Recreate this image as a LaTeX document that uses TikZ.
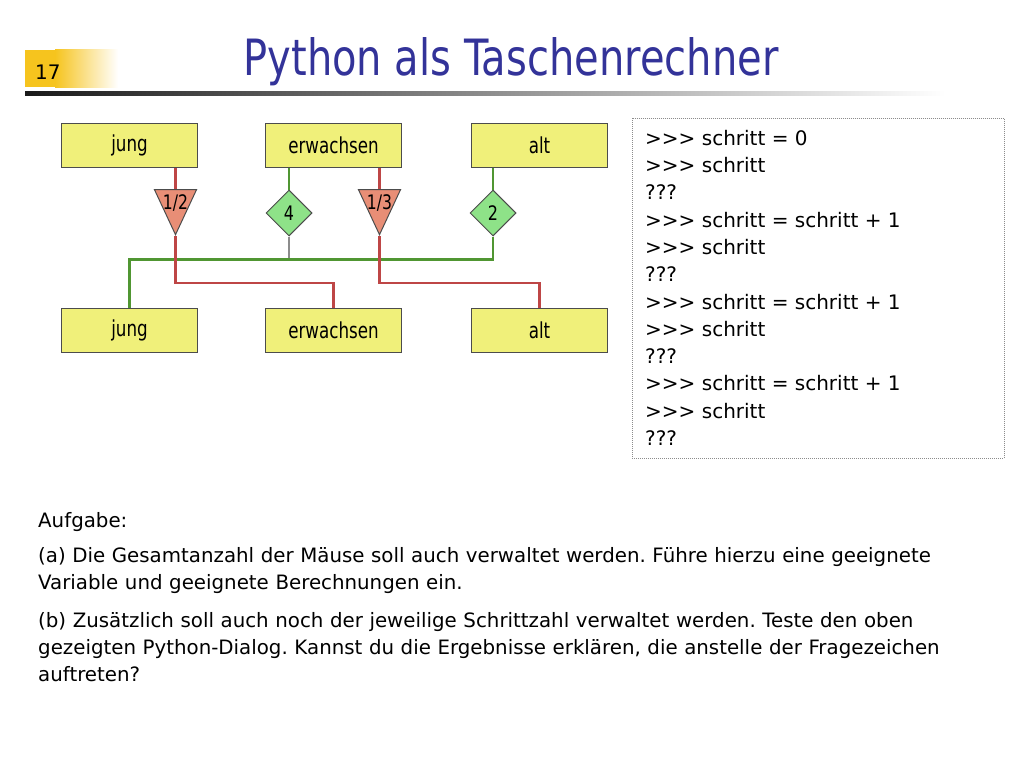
\documentclass[tikz,border=0pt]{standalone}
\usepackage{fontspec}
\setmainfont{DejaVu Sans}
\usetikzlibrary{shapes.geometric, positioning}
\frenchspacing

\definecolor{titelblau}{RGB}{51,51,153}
\definecolor{kastengelb}{RGB}{240,240,122}
\definecolor{dreieckrot}{RGB}{232,142,118}
\definecolor{rautegruen}{RGB}{142,226,136}
\definecolor{liniegruen}{RGB}{80,150,50}
\definecolor{linierot}{RGB}{190,70,70}
\definecolor{nummergelb}{RGB}{246,196,30}

\begin{document}
\begin{tikzpicture}[
        x=1pt, y=-1pt,
        % Populationskaesten
        popbox/.style={
                rectangle,
                draw=black!70,
                line width=1pt,
                fill=kastengelb,
                minimum width=136pt,
                minimum height=44pt,
                inner sep=0pt,
                font=\fontsize{22}{22}\selectfont
            },
        % Faktoren
        teilbox/.style={
                isosceles triangle,
                isosceles triangle stretches,
                shape border rotate=270,
                draw=black!70,
                line width=1pt,
                fill=dreieckrot,
                minimum width=42pt,
                minimum height=45pt,
                inner sep=0pt
            },
        teilzahl/.style={
                inner sep=0pt,
                font=\fontsize{20}{20}\selectfont
            },
        malbox/.style={
                diamond,
                draw=black!70,
                line width=1pt,
                fill=rautegruen,
                minimum width=46pt,
                minimum height=46pt,
                inner sep=0pt,
                font=\fontsize{20}{20}\selectfont
            },
        % Linien
        rotlinie/.style={draw=linierot, line width=2.2pt},
        gruenlinie/.style={draw=liniegruen, line width=2.2pt},
        graulinie/.style={draw=black!45, line width=2.2pt},
        % Text
        fliesstext/.style={
                anchor=base west,
                inner sep=0pt,
                text width=930pt,
                align=left,
                font=\fontsize{19.8}{27}\selectfont
            }
    ]
    \useasboundingbox (0,0) rectangle (1024,768);

    % Kopfzeile
    \fill[nummergelb] (25,50) rectangle (55,87);
    \shade[left color=nummergelb, right color=white] (55,50) rectangle (118,87);
    \node[anchor=base west, inner sep=0pt, font=\fontsize{20}{20}\selectfont] (nummer) at (35,79) {17};
    \shade[left color=black!90, right color=white] (25,91) rectangle (945,95);
    \node[anchor=base, inner sep=0pt, text=titelblau, font=\fontsize{50}{50}\selectfont] (titel) at (511,75)
        {\scalebox{0.8}[1]{Python als Taschenrechner}};

    % Obere Reihe
    \node[popbox] (jungA) at (129.5,145.5) {\scalebox{0.76}[1]{jung}};
    \node[popbox, right=67pt of jungA] (erwA) {\scalebox{0.76}[1]{erwachsen}};
    \node[popbox, right=69pt of erwA] (altA) {\scalebox{0.76}[1]{alt}};

    % Untere Reihe
    \node[popbox, below=140pt of jungA] (jungB) {\scalebox{0.76}[1]{jung}};
    \node[popbox, below=140pt of erwA] (erwB) {\scalebox{0.76}[1]{erwachsen}};
    \node[popbox, below=140pt of altA] (altB) {\scalebox{0.76}[1]{alt}};

    % Faktoren
    \node[teilbox, anchor=apex] (halb) at (175.5,236) {};
    \node[teilzahl] (halbtext) at ([yshift=-14pt]halb.north) {\scalebox{0.78}[1]{1/2}};
    \node[malbox] (vier) at (289,213) {\scalebox{0.8}[1]{4}};
    \node[teilbox, anchor=apex] (drittel) at (379.5,236) {};
    \node[teilzahl] (dritteltext) at ([yshift=-14pt]drittel.north) {\scalebox{0.78}[1]{1/3}};
    \node[malbox] (zwei) at (493,213) {\scalebox{0.8}[1]{2}};

    % Verbindungen
    \draw[rotlinie] (halb.north |- jungA.south) -- (halb.north);
    \draw[gruenlinie] (vier.north |- erwA.south) -- (vier.north);
    \draw[rotlinie] (drittel.north |- erwA.south) -- (drittel.north);
    \draw[gruenlinie] (zwei.north |- altA.south) -- (zwei.north);

    \draw[graulinie] (vier.south) -- ++(0,23);
    \draw[gruenlinie] (zwei.south) -- ++(0,23) -| (jungB.north);
    \draw[rotlinie] (halb.apex) -- ++(0,47) -| (erwB.north);
    \draw[rotlinie] (drittel.apex) -- ++(0,47) -| (altB.north);

    % Python-Dialog
    \node[anchor=north west, draw=black!45, line width=0.8pt, dash pattern=on 1pt off 1pt,
        minimum width=372pt, minimum height=340pt] (dialogrand) at (632,118) {};
    \node[anchor=north west, inner sep=0pt, align=left, font=\fontsize{20}{27.3}\selectfont] (dialog) at (645,129.8)
        {>{}>{}> schritt = 0\\
        >{}>{}> schritt\\
        ???\\
        >{}>{}> schritt = schritt + 1\\
        >{}>{}> schritt\\
        ???\\
        >{}>{}> schritt = schritt + 1\\
        >{}>{}> schritt\\
        ???\\
        >{}>{}> schritt = schritt + 1\\
        >{}>{}> schritt\\
        ???};

    % Aufgabe
    \node[fliesstext] (aufgabe) at (38,527) {Aufgabe:};
    \node[fliesstext] (teilA) at (38,562) {(a) Die Gesamtanzahl der Mäuse soll auch verwaltet werden. Führe hierzu eine geeignete Variable und geeignete Berechnungen ein.};
    \node[fliesstext] (teilB) at (38,627) {(b) Zusätzlich soll auch noch der jeweilige Schrittzahl verwaltet werden. Teste den oben gezeigten Python-Dialog. Kannst du die Ergebnisse erklären, die anstelle der Fragezeichen auftreten?};

\end{tikzpicture}
\end{document}
